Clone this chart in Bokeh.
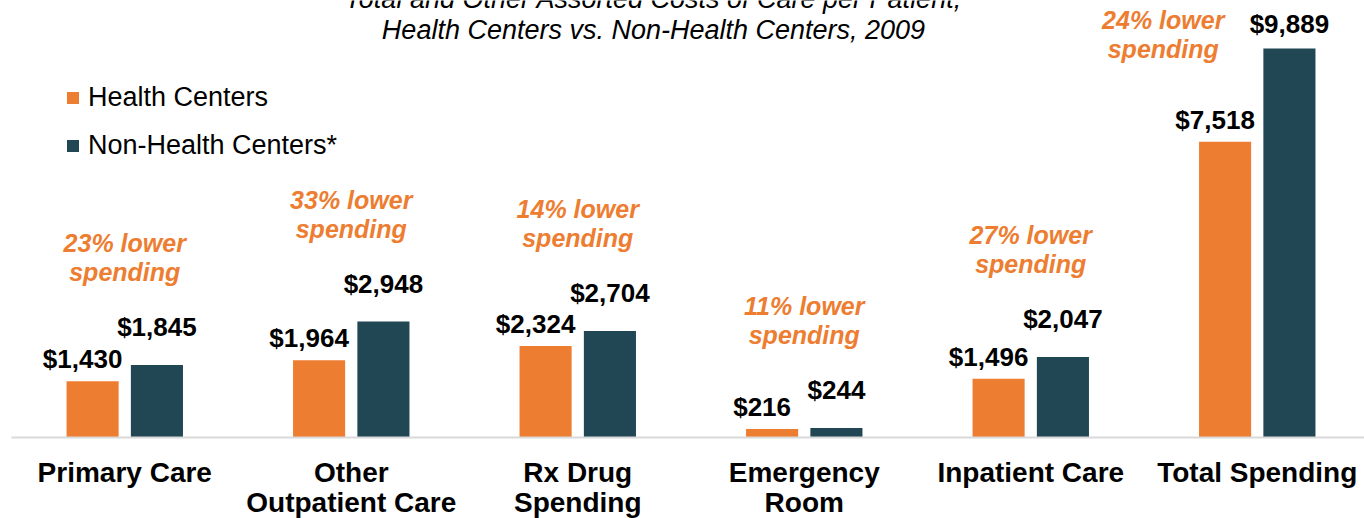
from bokeh.plotting import figure
from bokeh.models import Range1d, Legend, LegendItem, ColumnDataSource
from bokeh.core.properties import value
from bokeh.embed import file_html
from bokeh.resources import INLINE
import numpy as np

# ---- data ----
categories = ["Primary Care", "Other\nOutpatient Care", "Rx Drug\nSpending",
              "Emergency\nRoom", "Inpatient Care", "Total Spending"]
health_centers = [1430, 1964, 2324, 216, 1496, 7518]
non_health_centers = [1845, 2948, 2704, 244, 2047, 9889]
savings_labels = ["23% lower", "33% lower", "14% lower", "11% lower", "27% lower", "24% lower"]
series_names = ["Health Centers", "Non-Health Centers*"]
title_lines = ["Total and Other Assorted Costs of Care per Patient,",
               "Health Centers vs. Non-Health Centers, 2009"]

ORANGE = "#ED7D31"
TEAL = "#214654"
FONT_NAME = "Liberation Sans"
FONT = value(FONT_NAME)

W, H = 1364, 518
Y0, Y1 = -2059, 11108
X0, X1 = -0.5486, 5.4735
PPU = H / (Y1 - Y0)          # pixels per dollar
PPX = W / (X1 - X0)          # pixels per category unit
BASE_PX = 437                # baseline pixel row from top


def dy(px):
    return px / PPU


def y_from_top(px):
    return (BASE_PX - px) / PPU


p = figure(width=W, height=H, output_backend="svg", toolbar_location=None,
           min_border=0, x_range=Range1d(X0, X1), y_range=Range1d(Y0, Y1),
           x_axis_location=None, y_axis_location=None)
p.grid.visible = False
p.outline_line_color = None
p.background_fill_color = "white"

n = len(categories)
xc = np.arange(n, dtype=float)
off = 0.142
bw = 0.23

src = ColumnDataSource(dict(x_hc=xc - off, x_nhc=xc + off,
                            hc=health_centers, nhc=non_health_centers))
r_hc = p.vbar(x="x_hc", top="hc", bottom=0, width=bw, source=src,
              fill_color=ORANGE, line_color=None)
r_nhc = p.vbar(x="x_nhc", top="nhc", bottom=0, width=bw, source=src,
               fill_color=TEAL, line_color=None)

# baseline
p.segment(x0=[-0.5], x1=[X1], y0=[0], y1=[0], line_color="#d9d9d9", line_width=2)

# value labels
TOP_LIMIT = y_from_top(24)
p.text(x=list(xc - off - 10 / PPX), y=[v + dy(22) for v in health_centers],
       text=[f"${v:,}" for v in health_centers], text_font=FONT,
       text_font_style="bold", text_font_size="26px", text_color="black",
       text_align="center", text_baseline="middle")
p.text(x=list(xc + off), y=[min(v + dy(38), TOP_LIMIT) for v in non_health_centers],
       text=[f"${v:,}" for v in non_health_centers], text_font=FONT,
       text_font_style="bold", text_font_size="26px", text_color="black",
       text_align="center", text_baseline="middle")

# savings annotations
ax, ay1, ay2, l1, l2 = [], [], [], [], []
for i in range(n):
    if i == n - 1:
        x = xc[i] - 0.415
        anchor = health_centers[i]
    else:
        x = xc[i]
        anchor = max(health_centers[i], non_health_centers[i])
    ax.append(x)
    ay1.append(anchor + dy(122))
    ay2.append(anchor + dy(93))
    l1.append(savings_labels[i])
    l2.append("spending")
p.text(x=ax + ax, y=ay1 + ay2, text=l1 + l2, text_font=FONT,
       text_font_style="bold italic", text_font_size="25px", text_color=ORANGE,
       text_align="center", text_baseline="middle")

# category labels
cx, cy, ct = [], [], []
for i, c in enumerate(categories):
    for j, line in enumerate(c.split("\n")):
        cx.append(xc[i])
        cy.append(y_from_top(472 + 30 * j))
        ct.append(line)
p.text(x=cx, y=cy, text=ct, text_font=FONT, text_font_style="bold",
       text_font_size="28px", text_color="black", text_align="center",
       text_baseline="middle")

# title
title_x = (653 / PPX) + X0
p.text(x=[title_x, title_x], y=[y_from_top(-1), y_from_top(30)], text=title_lines,
       text_font=FONT, text_font_style="italic", text_font_size="27px",
       text_color="black", text_align="center", text_baseline="middle")

# legend
legend = Legend(items=[LegendItem(label=series_names[0], renderers=[r_hc]),
                       LegendItem(label=series_names[1], renderers=[r_nhc])],
                location=(65, 357), orientation="vertical",
                glyph_width=15, glyph_height=15, label_standoff=8,
                label_text_font=FONT_NAME, label_text_font_size="27px",
                label_text_color="black", spacing=17, padding=0, margin=0,
                border_line_color=None, background_fill_alpha=0)
p.add_layout(legend)

open("out.html", "w").write(file_html(p, INLINE))
